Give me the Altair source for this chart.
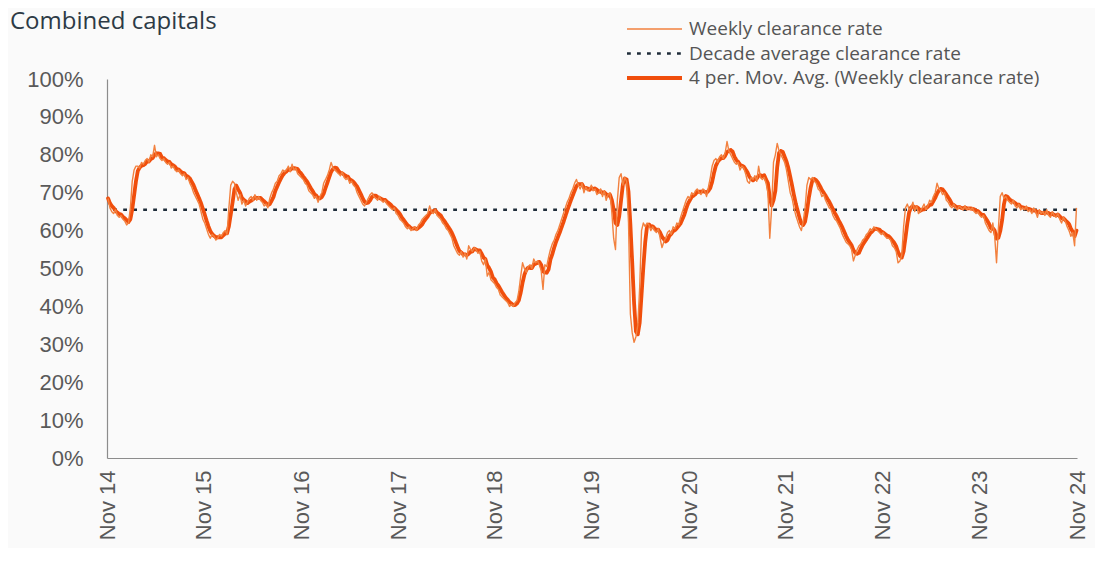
import altair as alt
import pandas as pd

TITLE = "Combined capitals"
SERIES = [
    "Weekly clearance rate",
    "Decade average clearance rate",
    "4 per. Mov. Avg. (Weekly clearance rate)",
]
DECADE_AVG = 65.5
START = "2014-11-05"
TICK_YEARS = list(range(2014, 2025))
Y_TICKS = list(range(0, 101, 10))

# weekly clearance rate (%), Nov 2014 -> Nov 2024, one list per year
year1 = [68.5, 66, 65, 64.5, 65.5, 64, 63.5, 64, 63, 62.5, 61.5, 62,
         66, 73, 76, 77,
         77, 76.5, 78, 77.5, 78.5, 79, 78, 80, 79.5, 82.5,
         79.5, 80, 79, 78.5, 79, 78,
         77.5, 78, 76.5, 77, 76, 75.5, 76, 75,
         74.5, 75, 73.5, 74, 72.5, 71.5, 70, 69,
         68, 67, 65, 63]
year2 = [62, 60.5, 59, 58, 59,
         58.5, 57.5, 58, 59, 58.5, 59.5, 60, 59,
         66, 72, 73,
         72.5, 70, 68, 69.5, 67, 68, 66.5,
         67.5, 68.5, 69, 68, 69.5, 68,
         69, 68, 67.5, 66.5, 67, 66, 68.5, 70,
         71, 72.5, 73, 74.5, 75, 76,
         75.5, 76, 77, 75.5, 77.5, 76, 76.5, 75, 74.5]
year3 = [74, 73.5, 72.5, 72, 70.5, 70, 69.5, 68.5, 69,
         67.5, 69, 70, 72.5, 73.5,
         74.5, 76, 78, 76.5, 76, 75.5,
         75, 74.5, 75.5, 74, 73.5, 74,
         72.5, 73, 72, 71.5, 70, 69,
         68, 67, 66.5, 67.5, 68.5, 69.5,
         70, 69, 68.5, 68, 69, 68,
         67.5, 68, 67, 66.5, 66, 65.5, 66, 64.5]
year4 = [64, 63, 62.5, 62, 61,
         60.5, 61, 60, 60.5, 61, 60,
         61.5, 62, 63, 63.5, 64, 64.5,
         66.5, 65, 64.5, 65.5, 64, 63.5,
         63, 62, 61.5, 60.5, 60, 59,
         58, 56, 55, 54, 53.5, 54.5,
         53, 54, 52.5, 56, 55, 54.5,
         55.5, 55, 54, 54.5, 52, 51,
         52.5, 48, 49, 47, 46.5]
year5 = [46, 45, 44.5, 43, 42.5, 42,
         41.5, 41, 40, 40.5, 40, 41, 41.5,
         44, 48, 51.5, 50, 49,
         50.5, 51, 50, 52.5, 51.5, 52,
         51, 49.5, 44.5, 51, 50.5,
         53, 55, 56.5, 57.5, 59, 60,
         61.5, 63, 64.5, 66, 67.5, 68.5,
         70, 71, 72.5, 73.5, 72, 71,
         72.5, 70, 71.5, 70.5, 71]
year6 = [72, 70.5, 71, 69.5, 70, 71, 69, 70.5, 68, 69.5,
         70, 65, 58, 55,
         68, 74, 75, 72, 74, 73,
         62, 38, 33, 30.5, 32, 35, 45, 60,
         62, 61, 62, 61.5, 60, 61,
         60, 59.5, 60.5, 58, 55.5, 57,
         58, 59.5, 60, 59, 61, 60.5,
         62, 61.5, 63.5, 65, 66.5, 68]
year7 = [69, 68.5, 70, 69.5, 70.5, 71,
         70, 69.5, 71, 70.5, 69, 71.5,
         74, 77, 78.5, 79, 78, 79.5,
         80, 79, 80.5, 83.5, 81, 80,
         79, 78, 77.5, 78, 76, 77,
         76.5, 75, 73, 72.5, 74, 73.5,
         74.5, 73, 77, 74, 73.5, 74,
         72.5, 70, 58, 66, 78, 80,
         83, 81, 80, 79]
year8 = [78, 76, 73, 70, 68.5, 66,
         64, 62.5, 61, 60, 62.5,
         66, 72, 74, 73.5, 74, 73, 72.5,
         71, 70.5, 69, 69.5, 68, 67,
         66, 65.5, 64, 63, 62.5, 61.5,
         60.5, 59, 58, 57, 56.5, 56,
         55, 52, 53.5, 55, 56, 56.5,
         57.5, 58, 59, 59.5, 60.5, 60,
         61, 60.5, 60, 59.5]
year9 = [59, 59.5, 58.5, 58, 58, 57.5,
         56, 55.5, 54.5, 51.5, 52, 53.5,
         61, 66, 67, 65.5, 66, 67.5,
         65, 66.5, 64.5, 65, 66, 67,
         65.5, 66.5, 68, 67.5, 69, 70,
         72.5, 71, 70.5, 69.5, 70, 68,
         67.5, 66.5, 66, 67, 66, 65.5,
         66.5, 66, 65.5, 66.5, 65.5, 66,
         65.5, 66, 65, 64.5]
year10 = [65, 64, 63.5, 64, 62, 61,
          60, 59.5, 62, 58.5, 51.5, 60.5,
          69, 70, 68.5, 69, 68, 67.5,
          67, 68, 66.5, 66, 67, 65.5,
          66, 65.5, 66.5, 65, 65.5, 64.5,
          66, 65, 63.5, 65.5, 64.5, 65,
          64, 65.5, 64, 63.5, 65, 64,
          63.5, 64.5, 63, 62, 63.5, 62.5,
          61, 60, 58.5, 59.5, 56, 66]

rates = year1 + year2 + year3 + year4 + year5 + year6 + year7 + year8 + year9 + year10
dates = pd.date_range(START, periods=len(rates), freq="7D").strftime("%Y-%m-%d")
df = pd.DataFrame({"date": list(dates), "rate": rates})
avg_df = pd.DataFrame({"series": [SERIES[1]], "value": [DECADE_AVG]})

AXIS_FONT = "Liberation Sans"
LABEL_COLOR = "#595959"
DOMAIN_COLOR = "#8c8c8c"

legend = alt.Legend(
    title=None, orient="none", legendX=518, legendY=-60,
    symbolType="stroke", symbolSize=3025, clipHeight=20, rowPadding=4.5,
    labelFont="Open Sans", labelFontSize=19, labelColor="#555555",
    labelOffset=5, labelLimit=600,
)
color = alt.Color("series:N", scale=alt.Scale(domain=SERIES, range=["#f2813f", "#1f2d3a", "#f04e0c"]), legend=legend)
dash = alt.StrokeDash("series:N", scale=alt.Scale(domain=SERIES, range=[[1, 0], [3.8, 6.2], [1, 0]]), legend=legend)
swidth = alt.StrokeWidth("series:N", scale=alt.Scale(domain=SERIES, range=[1.4, 3.8, 6]), legend=legend)

yscale = alt.Scale(domain=[0, 100], nice=False, zero=True)
y_axis = alt.Axis(
    values=Y_TICKS, labelExpr="datum.value + '%'", title=None, grid=False,
    ticks=False, tickSize=0, labelPadding=24, labelFont=AXIS_FONT,
    labelFontSize=22, labelColor=LABEL_COLOR, domainColor=DOMAIN_COLOR, domainWidth=1.2,
)
x_enc = alt.X(
    "date:T",
    scale=alt.Scale(type="utc", domain=[alt.DateTime(year=2014, month=11, date=1, utc=True),
                                        alt.DateTime(year=2024, month=11, date=1, utc=True)]),
    axis=alt.Axis(
        values=[alt.DateTime(year=yr, month=11, date=1, utc=True) for yr in TICK_YEARS],
        format="%b %y", labelAngle=270, title=None, grid=False, ticks=False, tickSize=0,
        labelPadding=12, labelFont=AXIS_FONT, labelFontSize=22, labelColor=LABEL_COLOR,
        domainColor=DOMAIN_COLOR, domainWidth=1.2, labelOverlap=False,
    ),
)

avg_layer = alt.Chart(avg_df).mark_rule().encode(
    y=alt.Y("value:Q", scale=yscale, axis=y_axis),
    color=color, strokeDash=dash, strokeWidth=swidth,
)

ma_layer = alt.Chart(df).transform_window(
    ma="mean(rate)", frame=[-3, 0], sort=[alt.SortField("date")]
).transform_calculate(series=f"'{SERIES[2]}'").mark_line(
    strokeJoin="round", strokeCap="round"
).encode(
    x=x_enc, y=alt.Y("ma:Q", scale=yscale, axis=y_axis),
    color=color, strokeDash=dash, strokeWidth=swidth,
)

weekly_layer = alt.Chart(df).transform_calculate(series=f"'{SERIES[0]}'").mark_line(
    strokeJoin="round"
).encode(
    x=x_enc, y=alt.Y("rate:Q", scale=yscale, axis=y_axis),
    color=color, strokeDash=dash, strokeWidth=swidth,
)

chart = alt.layer(avg_layer, ma_layer, weekly_layer).properties(
    width=970, height=379,
    padding={"left": 99, "top": 71, "right": 18, "bottom": 90},
    autosize=alt.AutoSizeParams(type="none"),
    background="#fafafa",
    title=alt.TitleParams(
        TITLE, anchor="start", frame="group", dx=-97, dy=19, font="Open Sans",
        fontSize=24, fontWeight="normal", color="#2d3a46",
    ),
).configure_view(stroke=None)

chart.save("out.html", embed_options={"renderer": "svg", "actions": False})
